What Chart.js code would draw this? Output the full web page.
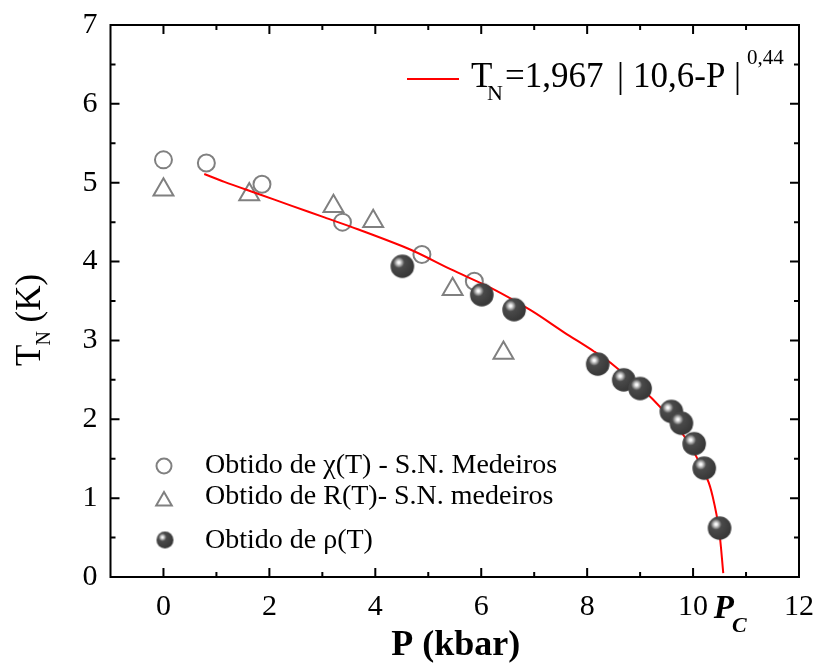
<!DOCTYPE html>
<html><head><meta charset="utf-8">
<script src="https://cdn.jsdelivr.net/npm/chart.js@4.4.0/dist/chart.umd.min.js"></script>
<style>html,body{margin:0;padding:0;background:#fff;}#wrap{width:816px;height:668px;position:relative;}</style>
</head><body><div id="wrap"><canvas id="c" width="816" height="668"></canvas></div>
<script>
// χ(T) - S.N. Medeiros (open circles)
const chiP = [0, 0.81, 1.86, 3.38, 4.88, 5.87];
const chiT = [5.29, 5.25, 4.98, 4.50, 4.09, 3.75];
// R(T) - S.N. medeiros (open triangles)
const resP = [0, 1.62, 3.21, 3.96, 5.46, 6.42];
const resT = [4.91, 4.85, 4.70, 4.51, 3.65, 2.84];
// ρ(T) (spheres)
const rhoP = [4.51, 6.01, 6.62, 8.20, 8.69, 9.00, 9.59, 9.78, 10.02, 10.21, 10.50];
const rhoT = [3.94, 3.58, 3.39, 2.70, 2.50, 2.39, 2.10, 1.95, 1.69, 1.38, 0.62];
// fit curve
const fitP = [0.77, 1.15, 1.78, 2.41, 3.04, 3.67, 4.67, 5.43, 6.20, 6.94, 7.57, 8.13, 8.51, 9.23, 9.86, 10.27, 10.37, 10.49, 10.57];
const fitT = [5.11, 5.01, 4.86, 4.71, 4.56, 4.41, 4.15, 3.90, 3.66, 3.38, 3.10, 2.86, 2.68, 2.26, 1.76, 1.24, 1.02, 0.60, 0.05];
// ticks
const xTicks = [0, 2, 4, 6, 8, 10, 12];
const xMinor = [1, 3, 5, 7, 9, 11];
const yTicks = [0, 1, 2, 3, 4, 5, 6, 7];
const yMinor = [0.5, 1.5, 2.5, 3.5, 4.5, 5.5, 6.5];

const SERIF = '"Liberation Serif","Times New Roman",serif';
const GRAY = '#808080';

function makeSphere(r){
  const s = Math.ceil(2*r+2);
  const c = document.createElement('canvas'); c.width = s; c.height = s;
  const g = c.getContext('2d');
  const cx = s/2, cy = s/2;
  const hx = cx-0.3*r, hy = cy-0.32*r;
  const grad = g.createRadialGradient(hx, hy, 0, hx, hy, r*1.3);
  grad.addColorStop(0, '#ffffff');
  grad.addColorStop(0.07, '#f6f6f6');
  grad.addColorStop(0.2, '#adadad');
  grad.addColorStop(0.36, '#4a4a4a');
  grad.addColorStop(1, '#383838');
  g.fillStyle = grad;
  g.beginPath(); g.arc(cx, cy, r, 0, Math.PI*2); g.fill();
  return c;
}
const sphereBig = makeSphere(11.8);
const sphereSmall = makeSphere(8.5);

const pts = (xs, ys) => xs.map((v,i)=>({x:v, y:ys[i]}));

const decor = {
  id: 'decor',
  afterDraw(chart){
    const {ctx, chartArea:a, scales:{x, y}} = chart;
    ctx.save();
    ctx.strokeStyle = '#000'; ctx.lineWidth = 2;
    ctx.strokeRect(a.left, a.top, a.right-a.left, a.bottom-a.top);
    ctx.beginPath();
    const xt = (arr, len) => arr.forEach(v=>{
      const px = x.getPixelForValue(v);
      if (px <= a.left+1 || px >= a.right-1) return;
      ctx.moveTo(px, a.bottom); ctx.lineTo(px, a.bottom-len);
      ctx.moveTo(px, a.top); ctx.lineTo(px, a.top+len);
    });
    const yt = (arr, len) => arr.forEach(v=>{
      const py = y.getPixelForValue(v);
      if (py <= a.top+1 || py >= a.bottom-1) return;
      ctx.moveTo(a.left, py); ctx.lineTo(a.left+len, py);
      ctx.moveTo(a.right, py); ctx.lineTo(a.right-len, py);
    });
    xt(xTicks, 9); xt(xMinor, 5); yt(yTicks, 9); yt(yMinor, 5);
    ctx.stroke();

    ctx.fillStyle = '#000';
    ctx.textBaseline = 'alphabetic';
    // x title
    ctx.font = 'bold 36px ' + SERIF;
    ctx.textAlign = 'center';
    ctx.fillText('P (kbar)', (a.left+a.right)/2 + 1, 655);
    // Pc label
    ctx.textAlign = 'left';
    const pcx = x.getPixelForValue(10.6);
    ctx.font = 'italic bold 33px ' + SERIF;
    ctx.fillText('P', pcx-11, 618);
    const pw = ctx.measureText('P').width;
    ctx.font = 'italic bold 22px ' + SERIF;
    ctx.fillText('C', pcx-11+pw-2, 632);

    // y title rotated
    ctx.save();
    ctx.translate(40, 366);
    ctx.rotate(-Math.PI/2);
    ctx.font = '35px ' + SERIF;
    ctx.fillText('T', 0, 0);
    let w = ctx.measureText('T').width;
    ctx.font = '20px ' + SERIF;
    ctx.fillText('N', w-1, 10);
    w += ctx.measureText('N').width - 1;
    ctx.font = '35px ' + SERIF;
    ctx.fillText(' (K)', w, 0);
    ctx.restore();

    // formula legend
    ctx.strokeStyle = '#ff0000'; ctx.lineWidth = 2;
    ctx.beginPath(); ctx.moveTo(407, 79); ctx.lineTo(459, 79); ctx.stroke();
    ctx.font = '35px ' + SERIF;
    ctx.fillText('T', 471, 87);
    ctx.font = '22px ' + SERIF;
    ctx.fillText('N', 487, 100);
    ctx.font = '35px ' + SERIF;
    ctx.fillText('=1,967', 505, 87);
    ctx.fillText('|', 617, 87);
    ctx.fillText('10,6-P', 633, 87);
    ctx.fillText('|', 734, 87);
    ctx.font = '21px ' + SERIF;
    ctx.fillText('0,44', 747, 64);

    // bottom legend
    ctx.lineWidth = 2; ctx.strokeStyle = GRAY;
    ctx.beginPath(); ctx.arc(164, 466, 7.5, 0, Math.PI*2); ctx.stroke();
    ctx.beginPath();
    const tr = 9, tcx = 164, tcy = 501;
    ctx.moveTo(tcx, tcy-tr);
    ctx.lineTo(tcx + tr*Math.sin(2*Math.PI/3), tcy - tr*Math.cos(2*Math.PI/3));
    ctx.lineTo(tcx + tr*Math.sin(4*Math.PI/3), tcy - tr*Math.cos(4*Math.PI/3));
    ctx.closePath(); ctx.stroke();
    ctx.drawImage(sphereSmall, 165 - sphereSmall.width/2, 540 - sphereSmall.height/2);
    ctx.font = '28px ' + SERIF;
    ctx.fillStyle = '#000';
    ctx.fillText('Obtido de \u03C7(T) - S.N. Medeiros', 205, 473);
    ctx.fillText('Obtido de R(T)- S.N. medeiros', 205, 504);
    ctx.fillText('Obtido de \u03C1(T)', 205, 548);
    ctx.restore();
  }
};

const noPad = s => { s.paddingLeft = 0; s.paddingRight = 0; s.paddingTop = 0; s.paddingBottom = 0; };

new Chart(document.getElementById('c'), {
  type: 'scatter',
  data: {
    datasets: [
      { label: 'Obtido de χ(T) - S.N. Medeiros', data: pts(chiP, chiT), order: 4,
        pointStyle: 'circle', pointRadius: 8.5, borderColor: GRAY, backgroundColor: 'rgba(0,0,0,0)', borderWidth: 2 },
      { label: 'Obtido de R(T)- S.N. medeiros', data: pts(resP, resT), order: 3,
        pointStyle: 'triangle', pointRadius: 11.5, borderColor: GRAY, backgroundColor: 'rgba(0,0,0,0)', borderWidth: 2 },
      { label: 'TN=1,967|10,6-P|^0,44', data: pts(fitP, fitT), order: 2, showLine: true,
        borderColor: '#ff0000', borderWidth: 2, pointRadius: 0, tension: 0.3, fill: false },
      { label: 'Obtido de ρ(T)', data: pts(rhoP, rhoT), order: 1,
        pointStyle: sphereBig, pointRadius: 11.8 }
    ]
  },
  options: {
    responsive: false, animation: false, devicePixelRatio: 1,
    layout: { padding: { top: 25, right: 17, left: 0, bottom: 0 } },
    plugins: { legend: { display: false }, tooltip: { enabled: false } },
    scales: {
      x: {
        type: 'linear', min: -1, max: 12,
        grid: { display: false, drawTicks: false }, border: { display: false },
        afterBuildTicks: s => { s.ticks = xTicks.map(v => ({ value: v })); },
        afterFit: s => { s.height = 91; noPad(s); },
        ticks: { autoSkip: false, maxRotation: 0, padding: 12, color: '#000',
          font: { family: SERIF, size: 30 } }
      },
      y: {
        type: 'linear', min: 0, max: 7,
        grid: { display: false, drawTicks: false }, border: { display: false },
        afterBuildTicks: s => { s.ticks = yTicks.map(v => ({ value: v })); },
        afterFit: s => { s.width = 110.5; noPad(s); },
        ticks: { autoSkip: false, padding: 13, color: '#000',
          font: { family: SERIF, size: 30 } }
      }
    }
  },
  plugins: [decor]
});
</script></body></html>
